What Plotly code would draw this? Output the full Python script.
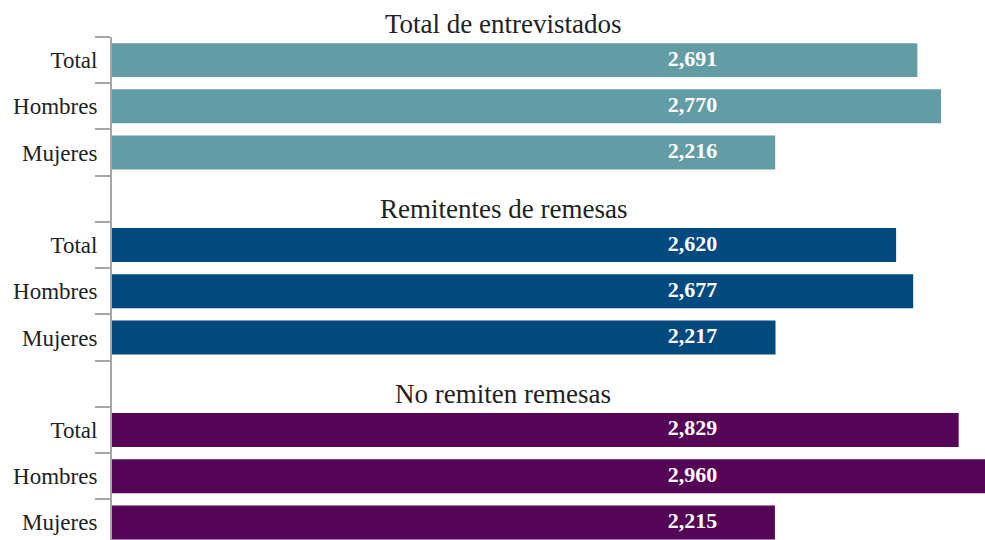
import plotly.graph_objects as go

# ---- data ----
groups = ["Total de entrevistados", "Remitentes de remesas", "No remiten remesas"]
sexes = ["Total", "Hombres", "Mujeres"]
total_entrevistados = [2691, 2770, 2216]
remitentes = [2620, 2677, 2217]
no_remiten = [2829, 2960, 2215]
group_values = [total_entrevistados, remitentes, no_remiten]
colors = ["#639ca5", "#004a80", "#550555"]

ZW = "\u200b"  # zero-width suffix to keep category keys unique

# Build category order: 3 rows per group + a blank separator slot between groups
order = []
group_keys = []
for gi in range(len(groups)):
    keys = [s + ZW * gi for s in sexes]
    group_keys.append(keys)
    order.extend(keys)
    if gi < len(groups) - 1:
        order.append(ZW * (gi + 1) + " ")

fig = go.Figure()
for gi in range(len(groups)):
    fig.add_trace(go.Bar(
        x=group_values[gi], y=group_keys[gi], orientation="h",
        marker=dict(color=colors[gi], line=dict(width=0)),
        width=0.735, showlegend=False, hoverinfo="x+y",
    ))

label_x = 1940
for gi in range(len(groups)):
    fig.add_trace(go.Scatter(
        x=[label_x] * len(sexes), y=group_keys[gi], mode="text",
        text=[f"{v:,}" for v in group_values[gi]],
        textfont=dict(family="Liberation Serif", size=22, color="white", weight="bold"),
        textposition="middle center", showlegend=False, hoverinfo="skip",
    ))

title_y = [1.025, 0.658, 0.291]
for gi, g in enumerate(groups):
    fig.add_annotation(
        text=g, xref="paper", yref="paper", x=0.448, y=title_y[gi],
        xanchor="center", yanchor="middle", showarrow=False,
        font=dict(family="Liberation Serif", size=27, color="#222222"),
    )

fig.update_layout(
    width=985, height=540,
    margin=dict(l=112, r=0, t=37, b=0, autoexpand=False),
    paper_bgcolor="white", plot_bgcolor="white",
    barmode="overlay",
    xaxis=dict(range=[0, 2917], visible=False, showgrid=False, zeroline=False,
               automargin=False),
    yaxis=dict(
        type="category", categoryorder="array", categoryarray=order,
        range=[10.38, -0.5], automargin=False,
        tickson="boundaries", ticks="outside", ticklen=15, tickwidth=2,
        tickcolor="#a6a6a6", showline=True, linecolor="#a6a6a6", linewidth=2,
        showgrid=False, zeroline=False, ticklabelstandoff=8,
        tickfont=dict(family="Liberation Serif", size=23, color="#222222"),
    ),
)

fig.write_html("out.html", config={"displayModeBar": False},
               post_script="document.body.style.margin='0';")
